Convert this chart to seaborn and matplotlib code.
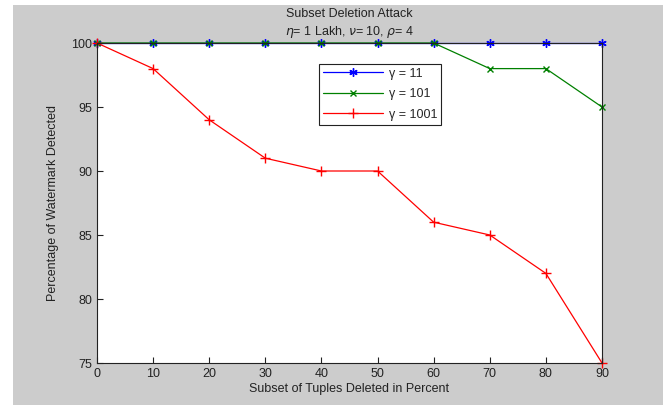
import matplotlib
matplotlib.use("Agg")
import matplotlib.pyplot as plt
import seaborn as sns
import pandas as pd
from matplotlib.patches import Rectangle

sns.set_style("ticks")
plt.rcParams['font.family'] = ['Liberation Sans', 'DejaVu Sans']

x_vals = [0, 10, 20, 30, 40, 50, 60, 70, 80, 90]
gamma_11 = [100, 100, 100, 100, 100, 100, 100, 100, 100, 100]
gamma_101 = [100, 100, 100, 100, 100, 100, 100, 98, 98, 95]
gamma_1001 = [100, 98, 94, 91, 90, 90, 86, 85, 82, 75]
labels = ["\u03b3 = 11", "\u03b3 = 101", "\u03b3 = 1001"]
colors = ["#0000ff", "#008000", "#ff0000"]
markers = [(6, 2, 0), "x", "+"]
msizes = [6, 4.5, 7]

fig = plt.figure(figsize=(6.66, 4.05), dpi=100)
fig.patch.set_facecolor("white")
fig.patches.append(Rectangle((13 / 666, 0), 650 / 666, 400 / 405,
                             transform=fig.transFigure, facecolor="#cccccc",
                             edgecolor="none", zorder=-10))
ax = fig.add_axes([97 / 666, 1 - 363 / 405, 505 / 666, 320 / 405])
ax.set_facecolor("white")

for ys, lab, col, mk, ms in zip([gamma_11, gamma_101, gamma_1001], labels, colors, markers, msizes):
    df = pd.DataFrame({"x": x_vals, "y": ys})
    sns.lineplot(data=df, x="x", y="y", ax=ax, color=col, marker=mk, markersize=ms,
                 markeredgewidth=1.0, linewidth=0.9, label=lab, clip_on=False,
                 markeredgecolor=col)

ax.set_xlim(0, 90)
ax.set_ylim(75, 100)
ax.set_xticks(x_vals)
ax.set_yticks([75, 80, 85, 90, 95, 100])
ax.tick_params(direction="in", length=4, labelsize=9, colors="#222222", width=0.8)
for s in ax.spines.values():
    s.set_color("#222222")
    s.set_linewidth(0.8)
    s.set_visible(True)

ax.set_xlabel("Subset of Tuples Deleted in Percent", fontsize=9, color="#222222", labelpad=2)
ax.set_ylabel("Percentage of Watermark Detected", fontsize=9, color="#222222", labelpad=9)
ax.set_title("Subset Deletion Attack\n$\\eta$= 1 Lakh, $\\nu$= 10, $\\rho$= 4",
             fontsize=9, color="#222222", pad=6, linespacing=1.3)

leg = ax.legend(loc="upper left", bbox_to_anchor=(0.44, 0.934), fontsize=9,
                frameon=True, fancybox=False, edgecolor="#222222", framealpha=1,
                handlelength=4.8, borderpad=0.3, labelspacing=0.68, numpoints=1,
                handletextpad=0.5, borderaxespad=0)
leg.get_frame().set_linewidth(0.8)

fig.savefig("out.png", dpi=100)
